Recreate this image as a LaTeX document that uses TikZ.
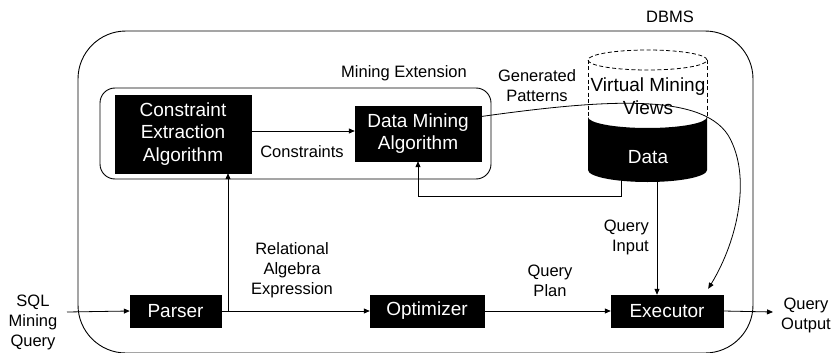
\documentclass[tikz,border=0pt]{standalone}
\usepackage{fontspec}
\setmainfont{Liberation Sans}
\usetikzlibrary{arrows.meta}
\begin{document}
\begin{tikzpicture}[x=1pt,y=-1pt,
  blk/.style={draw=black,fill=black,text=white,inner sep=0pt,align=center,
    font=\fontsize{19}{22.5}\selectfont},
  lbl/.style={inner sep=0pt,align=center,font=\fontsize{16.5}{20}\selectfont},
  conn/.style={line width=0.8pt,-{Triangle[length=6pt,width=5pt]}},
  plain/.style={line width=0.8pt},
  frame/.style={line width=0.9pt}]
\useasboundingbox (0,0) rectangle (835,353);
% DBMS frame
\draw[frame,rounded corners=48pt] (78,31) rectangle (753,353);
\node[lbl] (dbms) at (670,17) {DBMS};
% Mining extension frame
\draw[frame,rounded corners=15pt] (100,88) rectangle (491,179);
\node[lbl] (mext) at (404,73) {Mining Extension};
% boxes
\node[blk,minimum width=136pt,minimum height=78pt] (cea) at (183,134) {Constraint\\Extraction\\Algorithm};
\node[blk,minimum width=126pt,minimum height=55pt] (dma) at (418,133.5) {Data Mining\\Algorithm};
\node[blk,minimum width=91pt,minimum height=32pt] (parser) at (175.5,311) {Parser};
\node[blk,minimum width=114pt,minimum height=32pt] (opt) at (427,311) {Optimizer};
\node[blk,minimum width=112pt,minimum height=32pt] (exec) at (667,311) {Executor};
% cylinder
\fill[black] (588,117) arc[start angle=180,end angle=360,x radius=59.5pt,y radius=11pt]
  -- (707,170) arc[start angle=0,end angle=-180,x radius=59.5pt,y radius=12pt] -- cycle;
\draw[plain,dashed,dash pattern=on 4pt off 2.5pt] (647.5,60) ellipse[x radius=59.5pt,y radius=10pt];
\draw[plain,dashed,dash pattern=on 4pt off 2.5pt] (588,60) -- (588,117) (707,60) -- (707,117);
\node[inner sep=0pt,font=\fontsize{19}{22.5}\selectfont] (vmv1) at (648,87) {Virtual Mining};
\node[inner sep=0pt,font=\fontsize{19}{22.5}\selectfont] (vmv2) at (648,108) {Views};
\node[inner sep=0pt,text=white,font=\fontsize{19}{22.5}\selectfont] (data) at (648,157) {Data};
\coordinate (cylA) at (621,181);
\coordinate (cylB) at (657,182);
% labels
\node[lbl] (cons) at (302,152) {Constraints};
\node[lbl] (gp) at (537,86) {Generated\\Patterns};
\node[lbl] (rae) at (292,270) {Relational\\Algebra\\Expression};
\node[lbl] (qp) at (550,281) {Query\\Plan};
\node[lbl,align=right,anchor=east] (qi) at (649,237) {Query\\Input};
\node[lbl] (sql) at (33,322) {SQL\\Mining\\Query};
\node[lbl] (qo) at (806,315) {Query\\Output};
\coordinate (sqlend) at (67,312);
\coordinate (qoend) at (773,312);
\coordinate (branch) at (228,311);
% connectors
\draw[conn] (sqlend) -- (parser.west);
\draw[conn] (parser.east) -- (opt.west);
\draw[conn] (branch) -- (branch |- cea.south);
\draw[conn] (opt.east) -- (exec.west);
\draw[conn] (exec.east) -- (qoend);
\draw[conn] ([yshift=3pt]cea.east) -- ([yshift=2.5pt]dma.west);
\draw[conn] (cylA) -- ++(0,15) -| (dma.south);
\draw[conn] (cylB) -- (cylB |- exec.north);
\draw[conn] ([yshift=17pt]dma.east) .. controls (600,100) and (700,92) .. (728,135)
  .. controls (752,175) and (738,240) .. ([xshift=-15pt,yshift=6pt]exec.north east);
\end{tikzpicture}
\end{document}
